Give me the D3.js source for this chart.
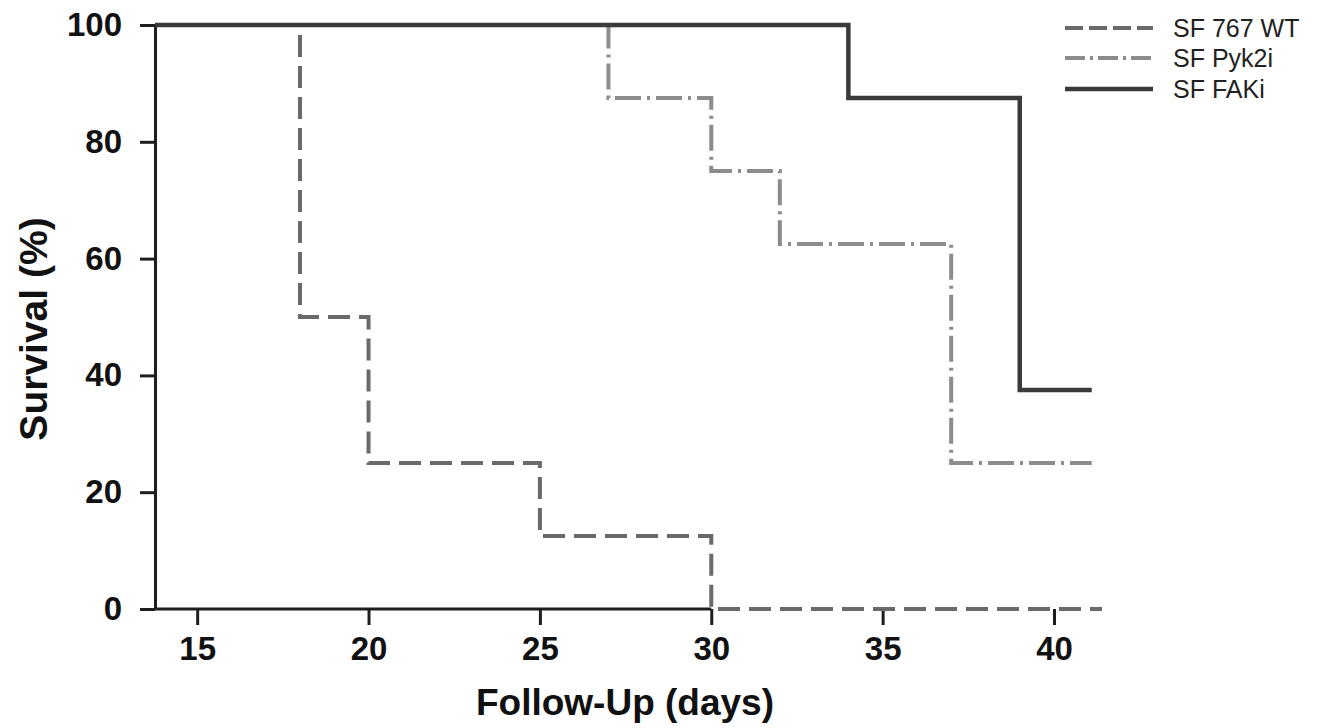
<!DOCTYPE html>
<html>
<head>
<meta charset="utf-8">
<script src="https://cdn.jsdelivr.net/npm/d3@7"></script>
<style>
  body { margin: 0; background: #fff; }
  text { font-family: "Liberation Sans", Arial, sans-serif; }
</style>
</head>
<body>
<div id="chart"></div>
<script>
// x extent of the plot (days); curves start at the left edge
const dayRange = [13.77, 41.4];
const xTicks = [15, 20, 25, 30, 35, 40];
const yTicks = [0, 20, 40, 60, 80, 100];

const wtDays = [13.77, 18, 20, 25, 30, 41.4];
const wtSurvival = [100, 50, 25, 12.5, 0, 0];

const pykDays = [13.77, 27, 30, 32, 37, 41.1];
const pykSurvival = [100, 87.5, 75, 62.5, 25, 25];

const fakDays = [13.77, 34, 39, 41.1];
const fakSurvival = [100, 87.5, 37.5, 37.5];

const seriesNames = ["SF 767 WT", "SF Pyk2i", "SF FAKi"];

const svgWidth = 1328;
const svgHeight = 728;
const plot = { left: 155, right: 1102, top: 25, bottom: 609 };

const svg = d3.select("#chart")
    .append("svg")
    .attr("width", svgWidth)
    .attr("height", svgHeight);

const x = d3.scaleLinear()
    .domain(dayRange)
    .range([plot.left, plot.right]);

const y = d3.scaleLinear()
    .domain([0, 100])
    .range([plot.bottom, plot.top]);

// axes
const xAxis = svg.append("g")
    .attr("transform", `translate(0,${plot.bottom})`)
    .call(d3.axisBottom(x).tickValues(xTicks).tickSize(16).tickPadding(12).tickSizeOuter(0));
xAxis.select(".domain").remove();
xAxis.append("line")
    .attr("x1", plot.left).attr("x2", x(30))
    .attr("stroke", "#1e1e1e").attr("stroke-width", 3);

const yAxis = svg.append("g")
    .attr("transform", `translate(${plot.left},0)`)
    .call(d3.axisLeft(y).tickValues(yTicks).tickSize(15).tickPadding(18).tickSizeOuter(0));

svg.selectAll(".tick line").attr("stroke", "#1e1e1e").attr("stroke-width", 3);
yAxis.select(".domain").attr("stroke", "#1e1e1e").attr("stroke-width", 3);
svg.selectAll(".tick text")
    .attr("fill", "#111")
    .style("font-size", "33px")
    .style("font-weight", "bold")
    .style("font-family", "'Liberation Sans', Arial, sans-serif");

// axis titles
svg.append("text")
    .attr("x", 625)
    .attr("y", 715)
    .attr("text-anchor", "middle")
    .attr("fill", "#111")
    .style("font-size", "37px")
    .style("font-weight", "bold")
    .text("Follow-Up (days)");

svg.append("text")
    .attr("transform", "translate(47,329) rotate(-90)")
    .attr("text-anchor", "middle")
    .attr("fill", "#111")
    .style("font-size", "39px")
    .style("font-weight", "bold")
    .text("Survival (%)");

// survival curves
const styles = [
    { color: "#6a6a6a", width: 4, dash: "22,9" },
    { color: "#8c8c8c", width: 4, dash: "26,6,3,6" },
    { color: "#3a3a3a", width: 4.5, dash: null }
];

const series = [
    d3.zip(wtDays, wtSurvival),
    d3.zip(pykDays, pykSurvival),
    d3.zip(fakDays, fakSurvival)
];

const line = d3.line()
    .x(d => x(d[0]))
    .y(d => y(d[1]))
    .curve(d3.curveStepAfter);

svg.selectAll("path.curve")
    .data(series)
    .enter()
    .append("path")
    .attr("class", "curve")
    .attr("d", line)
    .attr("fill", "none")
    .attr("stroke", (d, i) => styles[i].color)
    .attr("stroke-width", (d, i) => styles[i].width)
    .attr("stroke-dasharray", (d, i) => styles[i].dash);

// legend
const legend = svg.append("g")
    .attr("transform", "translate(1065,0)");

const rowY = [28, 58, 89];

legend.selectAll("line")
    .data(seriesNames)
    .enter()
    .append("line")
    .attr("x1", 0).attr("x2", 88)
    .attr("y1", (d, i) => rowY[i]).attr("y2", (d, i) => rowY[i])
    .attr("stroke", (d, i) => styles[i].color)
    .attr("stroke-width", (d, i) => styles[i].width)
    .attr("stroke-dasharray", (d, i) => i === 0 ? "18,6" : i === 1 ? "20,5,3,5" : null);

legend.selectAll("text")
    .data(seriesNames)
    .enter()
    .append("text")
    .attr("x", 108)
    .attr("y", (d, i) => rowY[i])
    .attr("dy", "0.36em")
    .attr("fill", "#222")
    .style("font-size", "25px")
    .text(d => d);
</script>
</body>
</html>
